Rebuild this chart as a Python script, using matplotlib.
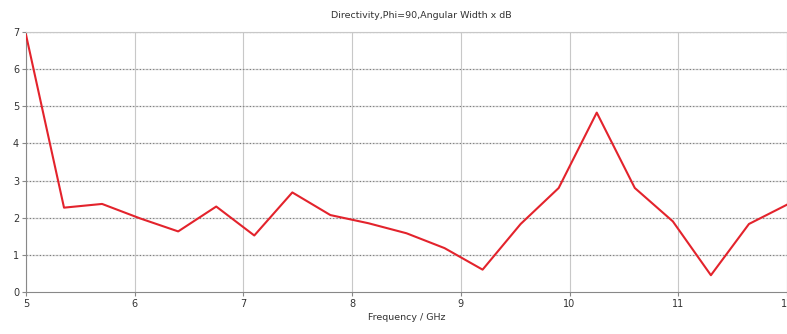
import matplotlib
matplotlib.use("Agg")
import matplotlib.pyplot as plt

# frequency points (GHz) and directivity values (dB)
freq = [5.0, 5.35, 5.7, 6.05, 6.4, 6.75, 7.1, 7.45, 7.8, 8.15, 8.5,
        8.85, 9.2, 9.55, 9.9, 10.25, 10.6, 10.95, 11.3, 11.65, 12.0]
directivity = [6.93, 2.27, 2.37, 1.98, 1.63, 2.30, 1.52, 2.68, 2.07, 1.85, 1.58,
               1.18, 0.60, 1.83, 2.80, 4.83, 2.80, 1.90, 0.45, 1.83, 2.35]

x_ticks = [5, 6, 7, 8, 9, 10, 11, 12]
y_ticks = [0, 1, 2, 3, 4, 5, 6, 7]

fig = plt.figure(figsize=(7.87, 3.34), dpi=100)
ax = fig.add_axes([0.033, 0.126, 0.967, 0.778])

ax.plot(freq, directivity, color="#e3232c", linewidth=1.5, zorder=3)

ax.set_xlim(5, 12)
ax.set_ylim(0, 7)
ax.set_xticks(x_ticks)
ax.set_yticks(y_ticks)
ax.tick_params(labelsize=7, length=3, color="#888888", labelcolor="#333333", pad=2)

# vertical grid solid, horizontal grid light solid with dotted overlay
ax.grid(True, axis="x", color="#c8c8c8", linewidth=0.8)
for y in y_ticks[1:]:
    ax.axhline(y, color="#dcdcdc", linewidth=1.0, zorder=1)
    ax.axhline(y, color="#777777", linewidth=0.8, linestyle=(0, (1, 2)), zorder=2)
for side in ["top", "right"]:
    ax.spines[side].set_color("#c8c8c8")
for side in ["left", "bottom"]:
    ax.spines[side].set_color("#888888")

ax.set_title("Directivity,Phi=90,Angular Width x dB", fontsize=6.8, color="#333333", pad=10, x=0.52)
ax.set_xlabel("Frequency / GHz", fontsize=6.8, color="#333333", labelpad=3)

fig.savefig("out.png", dpi=100)
